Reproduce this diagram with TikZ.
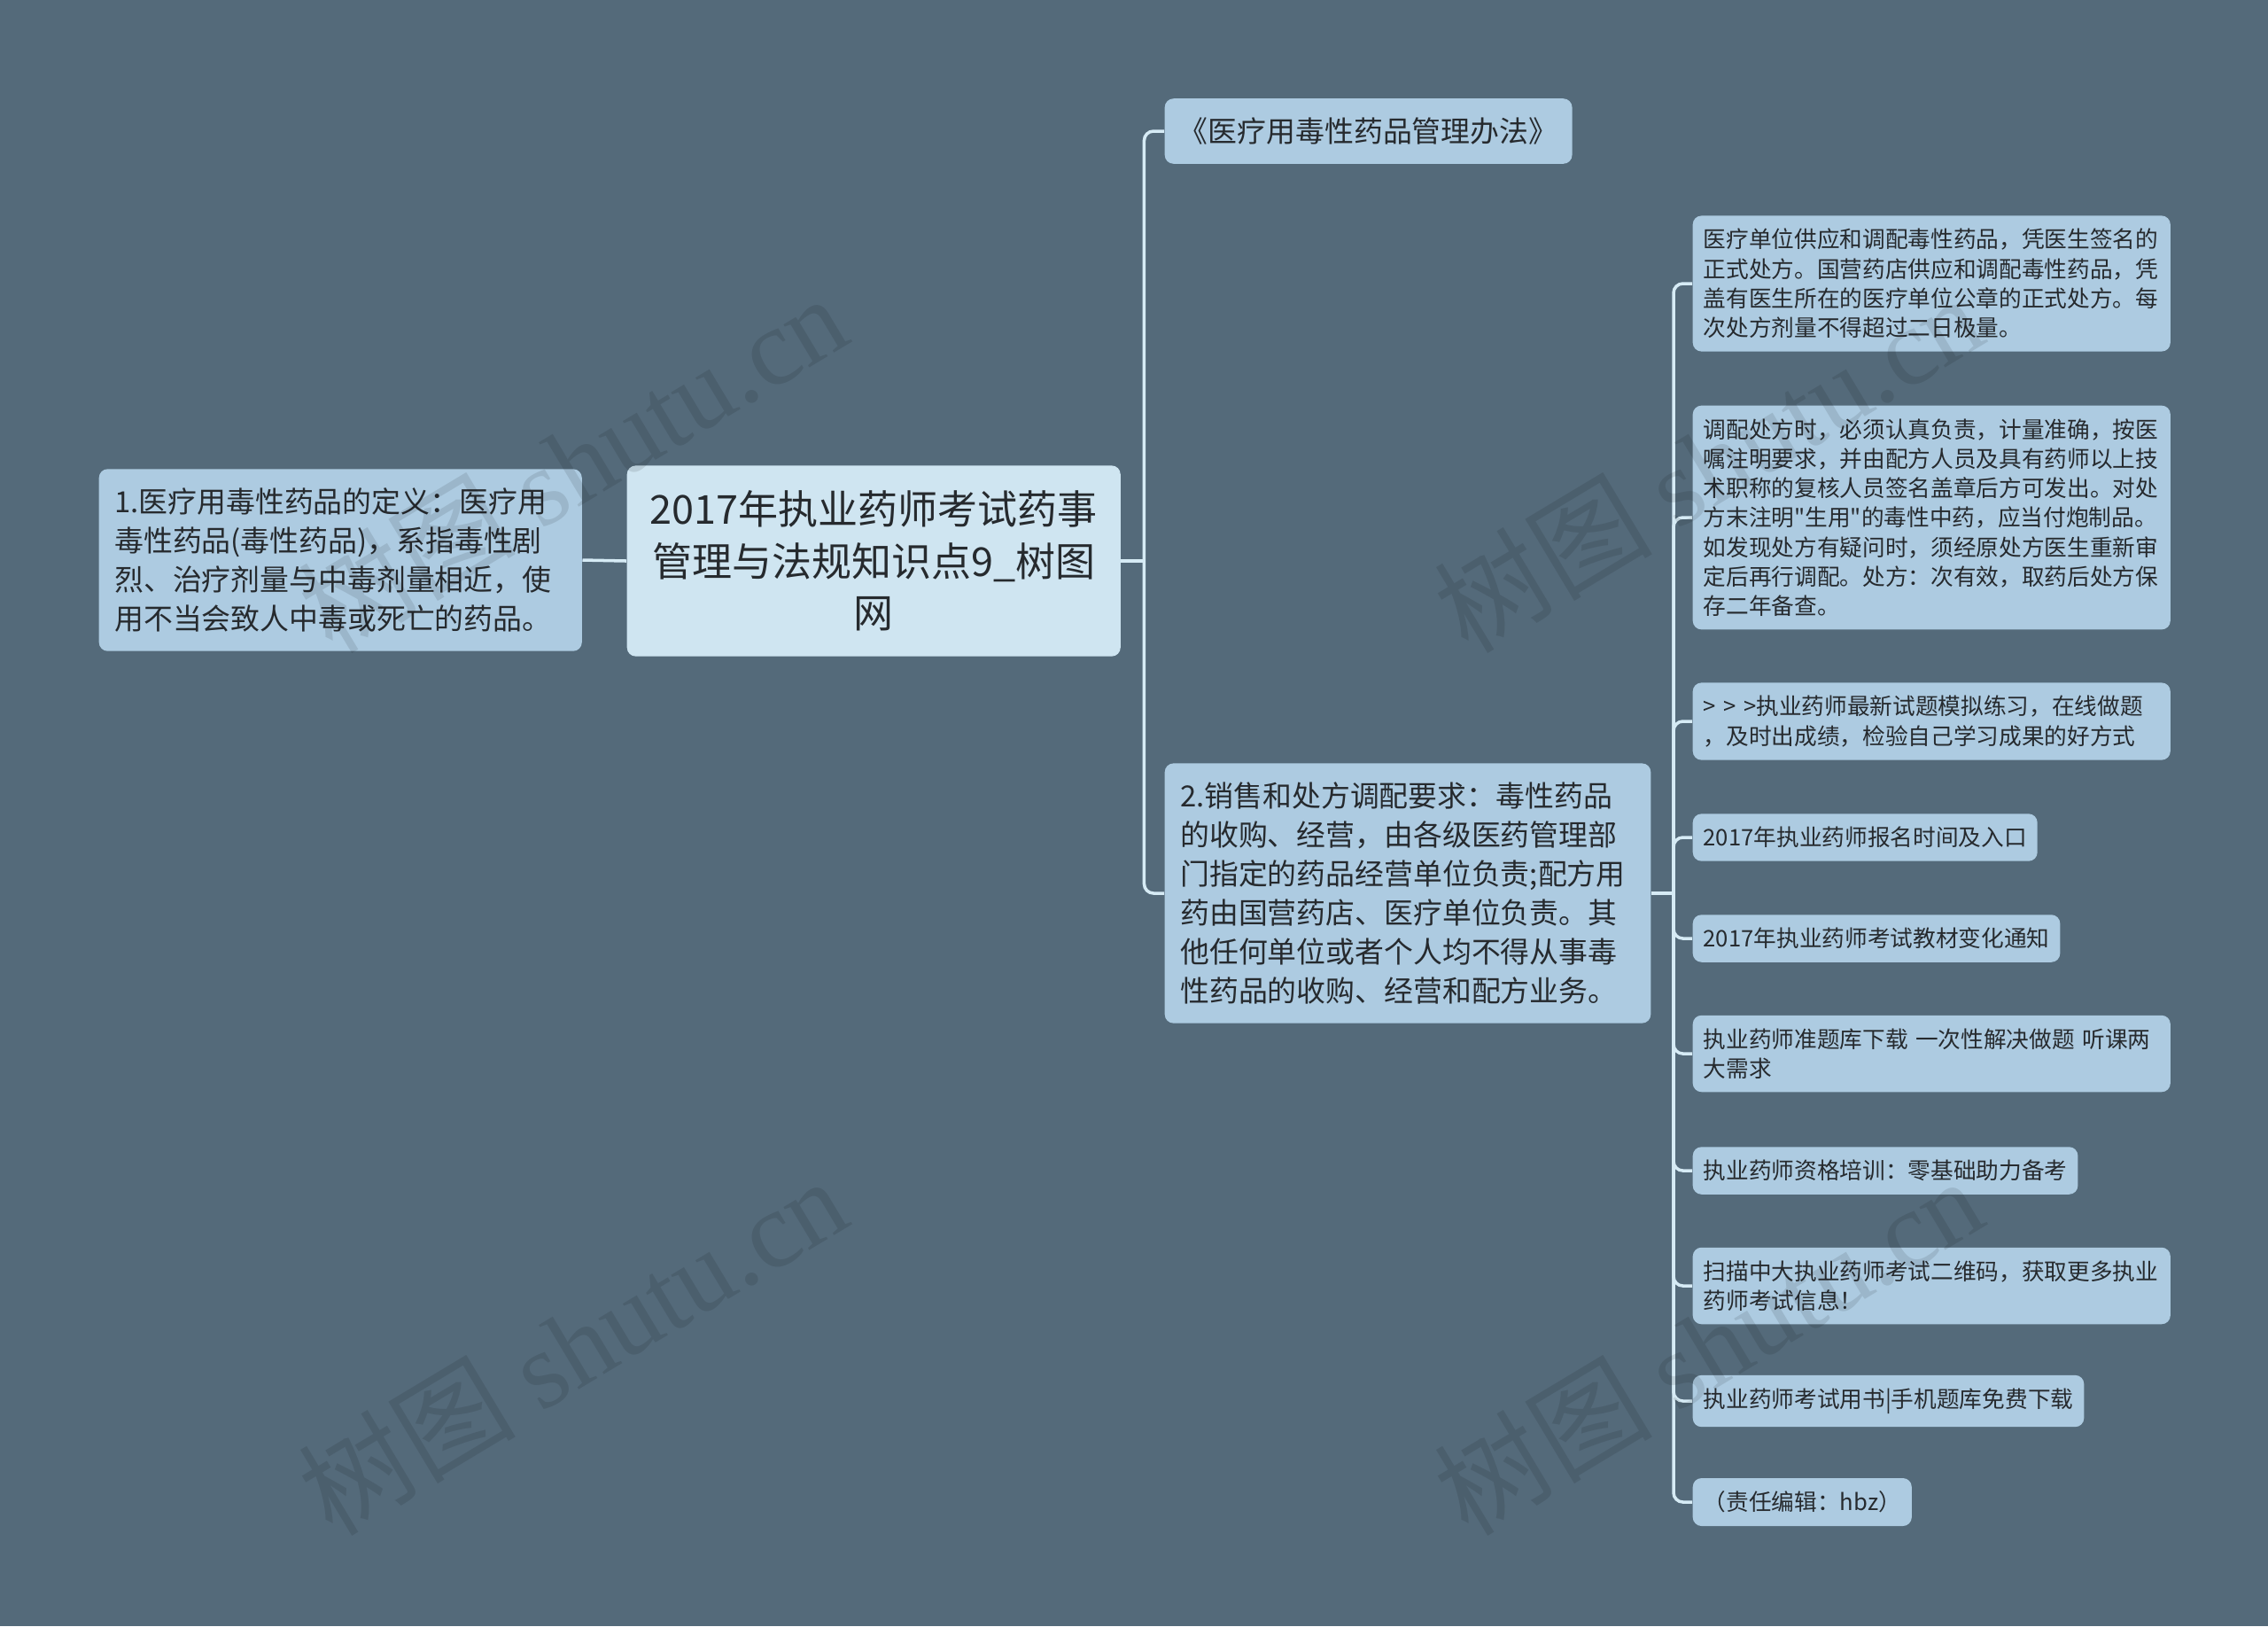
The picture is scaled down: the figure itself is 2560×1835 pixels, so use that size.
\documentclass[tikz,border=0pt]{standalone}
\usepackage{fontspec}
\newfontfamily\cjk{Noto Sans CJK SC}
\newfontfamily\wmfont{Liberation Serif}
\usepackage{tikz}
\usetikzlibrary{calc}
\usepackage{xcolor}
\definecolor{fondo}{HTML}{546A7A}
\definecolor{hoja}{HTML}{ADCBE1}
\definecolor{raiz}{HTML}{CFE5F1}
\definecolor{linea}{HTML}{D6EBF5}
\definecolor{texto}{HTML}{262A2E}
\tikzset{
	caja/.style={fill=hoja,rounded corners=2.8pt,text=texto,align=left,anchor=west},
	hojita/.style={caja,inner xsep=3.4pt,inner ysep=4.2pt,font=\cjk\fontsize{7.3pt}{9.45pt}\selectfont},
	hojaancha/.style={hojita,text width=146.5pt},
	media/.style={caja,inner xsep=5pt,inner ysep=6.1pt,font=\cjk\fontsize{9.35pt}{12.5pt}\selectfont},
	conn/.style={draw=linea,line width=1pt,rounded corners=3pt},
	marca/.style={text=black,opacity=0.1,rotate=31,font=\cjk\fontsize{35pt}{35pt}\selectfont}
}
\begin{document}
\begin{tikzpicture}[x=0.01cm,y=-0.01cm]
			\fill[fondo] (0,0) rectangle (2560,1835);
			\useasboundingbox (0,0) rectangle (2560,1835);
			%nodo central
			\node[caja,fill=raiz,align=center,text width=147pt,inner xsep=5.7pt,inner ysep=8pt,font=\cjk\fontsize{12.8pt}{16.7pt}\selectfont] (raiz) at (707,633) {2017年执业药师考试药事\\管理与法规知识点9\_树图\\网};
			\node[media,text width=145pt] (defin) at (111,632) {1.医疗用毒性药品的定义：医疗用\\毒性药品(毒性药品)，系指毒性剧\\烈、治疗剂量与中毒剂量相近，使\\用不当会致人中毒或死亡的药品。};
			\node[media,inner xsep=4.6pt] (banfa) at (1314,148) {《医疗用毒性药品管理办法》};
			\node[media,text width=146pt] (venta) at (1314,1008) {2.销售和处方调配要求：毒性药品\\的收购、经营，由各级医药管理部\\门指定的药品经营单位负责;配方用\\药由国营药店、医疗单位负责。其\\他任何单位或者个人均不得从事毒\\性药品的收购、经营和配方业务。};
			%hojas
			\node[hojaancha] (h1) at (1910,320) {医疗单位供应和调配毒性药品，凭医生签名的\\正式处方。国营药店供应和调配毒性药品，凭\\盖有医生所在的医疗单位公章的正式处方。每\\次处方剂量不得超过二日极量。};
			\node[hojaancha] (h2) at (1910,584) {调配处方时，必须认真负责，计量准确，按医\\嘱注明要求，并由配方人员及具有药师以上技\\术职称的复核人员签名盖章后方可发出。对处\\方末注明"生用"的毒性中药，应当付炮制品。\\如发现处方有疑问时，须经原处方医生重新审\\定后再行调配。处方：次有效，取药后处方保\\存二年备查。};
			\node[hojaancha] (h3) at (1910,814) {> > >执业药师最新试题模拟练习，在线做题\\，及时出成绩，检验自己学习成果的好方式};
			\node[hojita] (h4) at (1910,945) {2017年执业药师报名时间及入口};
			\node[hojita] (h5) at (1910,1059) {2017年执业药师考试教材变化通知};
			\node[hojaancha] (h6) at (1910,1189) {执业药师准题库下载 一次性解决做题 听课两\\大需求};
			\node[hojita] (h7) at (1910,1321) {执业药师资格培训：零基础助力备考};
			\node[hojaancha] (h8) at (1910,1451) {扫描中大执业药师考试二维码，获取更多执业\\药师考试信息！};
			\node[hojita] (h9) at (1910,1581) {执业药师考试用书|手机题库免费下载};
			\node[hojita] (h10) at (1910,1695) {（责任编辑：hbz）};
			%conexiones
			\path (raiz.east) ++(26,0) coordinate (j1);
			\path (venta.east) ++(25,0) coordinate (j2);
			\draw[conn] (raiz.west) -- (defin.east);
			\draw[conn] (raiz.east) -- (j1);
			\draw[conn] (j1) |- (banfa.west);
			\draw[conn] (j1) |- (venta.west);
			\draw[conn] (venta.east) -- (j2);
			\foreach \h in {h1,h2,h3,h4,h5,h6,h7,h8,h9,h10}
				\draw[conn] (j2) |- (\h.west);
			%marca de agua
			\foreach \x/\y in {646/522,646/1518,1928/522,1928/1518}
				\node[marca] at (\x,\y) {树图 {\wmfont shutu.cn}};
		\end{tikzpicture}
\end{document}
